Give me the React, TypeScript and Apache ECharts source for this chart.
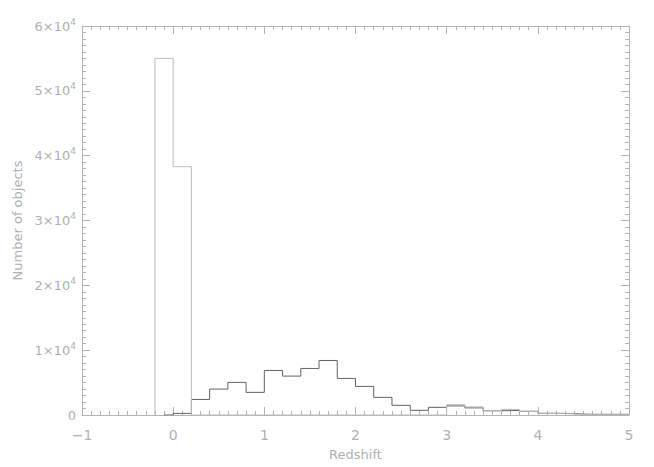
import React, { useEffect, useRef } from "react";
import * as echarts from "echarts";

// Histogram bins: left edges start at binStart, width binWidth
const binStart = -0.2;
const binWidth = 0.2;
const darkLineStart = -0.1;
// dark histogram counts per bin (-0.2 .. 5.0)
const darkCounts = [
  0, 250, 2400, 4000, 5030, 3490, 6870, 6000, 7180, 8410, 5640, 4410, 2720,
  1490, 720, 1180, 1400, 1100, 660, 700, 570, 260, 200, 100, 100, 100,
];
// gray histogram counts per bin (-0.2 .. 5.0)
const grayCounts = [
  55000, 38300, 0, 0, 0, 0, 0, 0, 0, 0, 0, 0, 0, 0, 0, 0, 1600, 1250, 660,
  870, 570, 260, 270, 100, 100, 100,
];
const xTicks = [-1, 0, 1, 2, 3, 4, 5];
const yTicks = [0, 10000, 20000, 30000, 40000, 50000, 60000];

const AXIS = "#b4b4b4";
const TEXT = "#b0b0b0";

export default function App() {
  const ref = useRef<HTMLDivElement>(null);
  useEffect(() => {
    if (!ref.current) return;
    const chart = echarts.init(ref.current, undefined, { renderer: "svg" });

    // dark: step 'end' with left edges, starting at darkLineStart
    const darkData: number[][] = [];
    darkCounts.forEach((v, i) => {
      const x = +(binStart + i * binWidth).toFixed(2);
      darkData.push([i === 0 ? darkLineStart : x, v]);
    });
    darkData.push([
      +(binStart + darkCounts.length * binWidth).toFixed(2),
      darkCounts[darkCounts.length - 1],
    ]);

    // gray: step 'start' with right edges
    const grayData: number[][] = [[binStart, 0]];
    grayCounts.forEach((v, i) => {
      grayData.push([+(binStart + (i + 1) * binWidth).toFixed(2), v]);
    });

    const xCommon = {
      type: "value" as const,
      min: xTicks[0],
      max: xTicks[xTicks.length - 1],
      interval: 1,
      axisLine: { show: true, onZero: false, lineStyle: { color: AXIS, width: 1 } },
      axisTick: { show: true, inside: true, length: 8, lineStyle: { color: AXIS } },
      minorTick: { show: true, splitNumber: 10, length: 4, lineStyle: { color: AXIS } },
      splitLine: { show: false },
      minorSplitLine: { show: false },
    };
    const yCommon = {
      type: "value" as const,
      min: yTicks[0],
      max: yTicks[yTicks.length - 1],
      interval: 10000,
      axisLine: { show: true, onZero: false, lineStyle: { color: AXIS, width: 1 } },
      axisTick: { show: true, inside: true, length: 8, lineStyle: { color: AXIS } },
      minorTick: { show: true, splitNumber: 10, length: 4, lineStyle: { color: AXIS } },
      splitLine: { show: false },
      minorSplitLine: { show: false },
    };

    chart.setOption({
      animation: false,
      backgroundColor: "#ffffff",
      grid: { left: 82, right: 25, top: 26, bottom: 52, containLabel: false },
      xAxis: [
        {
          ...xCommon,
          position: "bottom",
          name: "Redshift",
          nameLocation: "middle",
          nameGap: 33,
          nameTextStyle: { color: TEXT, fontSize: 13, fontFamily: "DejaVu Sans" },
          axisLabel: {
            color: TEXT,
            fontSize: 14,
            fontFamily: "DejaVu Sans",
            margin: 13,
            formatter: (v: number) => String(v).replace("-", "\u2212"),
          },
        },
        { ...xCommon, position: "top", axisLabel: { show: false } },
      ],
      yAxis: [
        {
          ...yCommon,
          position: "left",
          name: "Number of objects",
          nameLocation: "middle",
          nameGap: 57,
          nameTextStyle: { color: TEXT, fontSize: 13, fontFamily: "DejaVu Sans" },
          axisLabel: {
            color: TEXT,
            fontSize: 13,
            fontFamily: "DejaVu Sans",
            margin: 6,
            formatter: (v: number) =>
              v === 0 ? "{m|0}" : `{m|${v / 10000}\u00d710}{s|4}`,
            rich: {
              m: { color: TEXT, fontSize: 13, fontFamily: "DejaVu Sans" },
              s: { color: TEXT, fontSize: 9, fontFamily: "DejaVu Sans", padding: [0, 0, 9, 0] },
            },
          },
        },
        { ...yCommon, position: "right", axisLabel: { show: false } },
      ],
      series: [
        {
          type: "line",
          step: "start",
          data: grayData,
          showSymbol: false,
          symbol: "none",
          lineStyle: { color: "#bdbdbd", width: 1 },
          xAxisIndex: 0,
          yAxisIndex: 0,
          z: 2,
        },
        {
          type: "line",
          step: "end",
          data: darkData,
          showSymbol: false,
          symbol: "none",
          lineStyle: { color: "#626262", width: 1 },
          xAxisIndex: 0,
          yAxisIndex: 0,
          z: 1,
        },
      ],
    });
    return () => chart.dispose();
  }, []);
  return (
    <div
      ref={ref}
      style={{ position: "fixed", left: 0, top: 0, width: 654, height: 467 }}
    />
  );
}
